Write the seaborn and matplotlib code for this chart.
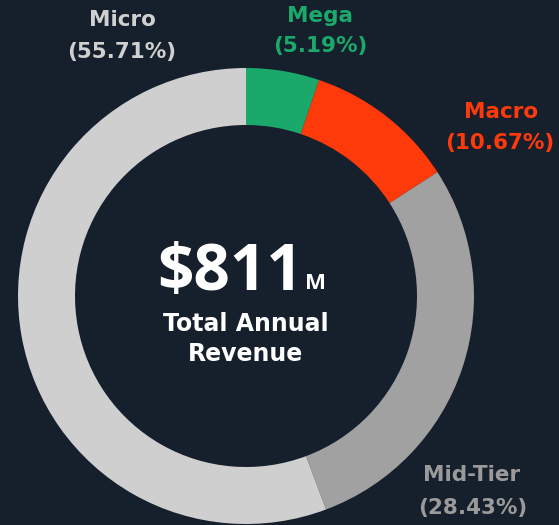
import matplotlib
matplotlib.use("Agg")
import matplotlib.pyplot as plt
import seaborn as sns

# revenue split by creator tier, clockwise from 12 o'clock
segments = ["Mega", "Macro", "Mid-Tier", "Micro"]
shares = [5.19, 10.67, 28.43, 55.71]
seg_colors = ["#1aa96b", "#ff3a0a", "#a1a1a1", "#cfcfcf"]
label_colors = ["#1aa96b", "#ff3a0a", "#9a9a9a", "#d0d0d0"]
total_revenue = 811  # $M

bg = "#161f2c"
W, H = 559, 525

sns.set_theme(style="dark", rc={"figure.facecolor": bg, "axes.facecolor": bg})
plt.rcParams['font.family'] = ['DejaVu Sans']

fig = plt.figure(figsize=(W / 100, H / 100), dpi=100)
ax = fig.add_axes([0, 0, 1, 1])

# work in pixel coords, y measured from the top
cx, cy = 246, 296
ax.pie(shares, colors=seg_colors, startangle=90, counterclock=False,
       radius=228, center=(cx, H - cy),
       wedgeprops=dict(width=57, linewidth=0, antialiased=True))
ax.set_xlim(0, W)
ax.set_ylim(0, H)
ax.set_aspect("equal")
ax.axis("off")

# label positions (name line, percent line)
label_pos = {
    "Micro": ((122, 20), (122, 52)),
    "Mega": ((320, 16), (320, 46)),
    "Macro": ((501, 112), (500, 143)),
    "Mid-Tier": ((472, 475), (473, 508)),
}
for name, pct, col in zip(segments, shares, label_colors):
    (x1, y1), (x2, y2) = label_pos[name]
    ax.text(x1, H - y1, name, color=col, fontsize=15.5, fontweight="bold",
            ha="center", va="center")
    ax.text(x2, H - y2, f"({pct:.2f}%)", color=col, fontsize=15.5,
            fontweight="bold", ha="center", va="center")

# centre text
ax.text(303, H - 290, f"${total_revenue}", color="white", fontsize=46,
        fontweight="bold", ha="right", va="baseline", family="Open Sans")
ax.text(305, H - 289, "M", color="white", fontsize=16, fontweight="bold",
        ha="left", va="baseline", family="Open Sans")
ax.text(cx, H - 324, "Total Annual", color="white", fontsize=17,
        fontweight="bold", ha="center", va="center")
ax.text(cx, H - 354, "Revenue", color="white", fontsize=17,
        fontweight="bold", ha="center", va="center")

fig.savefig("out.png", dpi=100, facecolor=bg)
